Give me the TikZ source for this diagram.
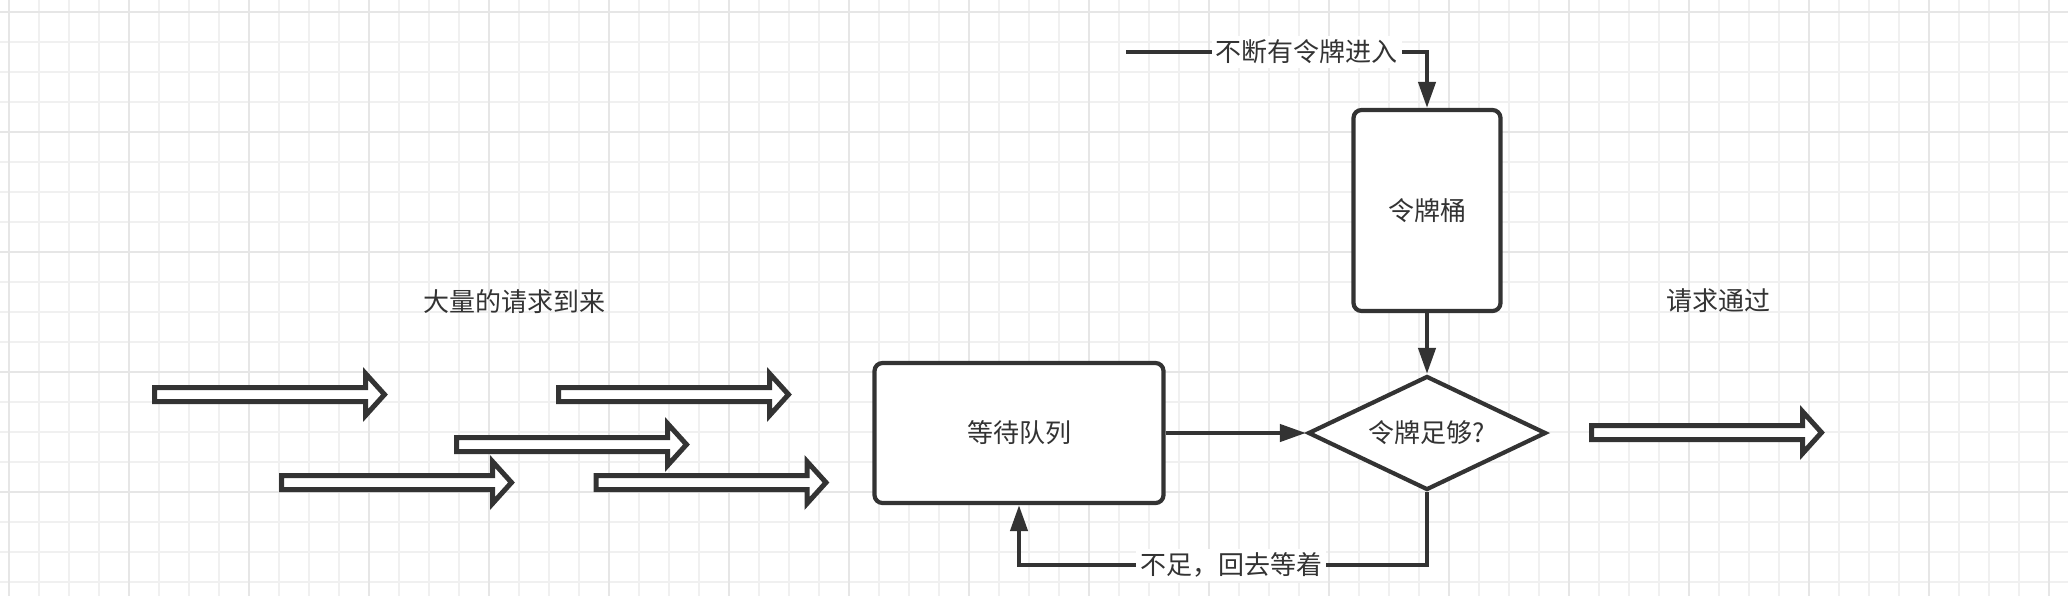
\documentclass[tikz,border=0pt]{standalone}
\usepackage{fontspec}
\newfontfamily\cjk{Noto Sans CJK SC}
\usetikzlibrary{arrows.meta,shapes.geometric}
\definecolor{ink}{HTML}{333333}
\definecolor{gridminor}{HTML}{F0F0F0}
\definecolor{gridmajor}{HTML}{E6E6E6}
\tikzset{
  txt/.style={font=\cjk\fontsize{13}{15}\selectfont, text=ink},
  box/.style={draw=ink, line width=2.1pt, rounded corners=4pt, fill=white, inner sep=0pt, txt},
  dia/.style={diamond, draw=ink, line width=2.1pt, fill=white, inner sep=0pt, aspect=2, txt},
  conn/.style={draw=ink, line width=2.1pt, -{Triangle[length=13pt,width=8.5pt]}},
  lbl/.style={txt, fill=white, inner sep=2pt},
  blk/.style={draw=ink, line width=2.5pt, fill=white, line join=miter},
  blockarrow/.pic={\path[blk] (0,-7) -- (211,-7) -- (211,-21) -- (230,0) -- (211,21) -- (211,7) -- (0,7) -- cycle;}
}
\begin{document}
\begin{tikzpicture}[x=0.5pt,y=-0.5pt]
\useasboundingbox (0,0) rectangle (2068,596);
\fill[white] (0,0) rectangle (2068,596);
% grid
\foreach \i in {0,...,68} {\pgfmathsetmacro\xx{9+30*\i}\draw[gridminor, line width=1pt] (\xx,0) -- (\xx,596);}
\foreach \i in {0,...,19} {\pgfmathsetmacro\yy{11.7+30*\i}\draw[gridminor, line width=1pt] (0,\yy) -- (2068,\yy);}
\foreach \i in {0,...,17} {\pgfmathsetmacro\xx{9+120*\i}\draw[gridmajor, line width=1.2pt] (\xx,0) -- (\xx,596);}
\foreach \i in {0,...,4} {\pgfmathsetmacro\yy{11.7+120*\i}\draw[gridmajor, line width=1.2pt] (0,\yy) -- (2068,\yy);}

% labels
\node[txt] (lin) at (514,302) {大量的请求到来};
\node[txt] (lout) at (1718,301) {请求通过};

% block arrows
\pic at (154.5,394.5) {blockarrow};
\pic at (558.5,394.5) {blockarrow};
\pic at (456.5,444.5) {blockarrow};
\pic at (281.5,482.5) {blockarrow};
\pic at (596,482.5) {blockarrow};
\pic at (1591.5,432.5) {blockarrow};

% nodes
\node[box, minimum width=73.5pt, minimum height=100.5pt] (bucket) at (1427,210.5) {令牌桶};
\node[box, minimum width=144.5pt, minimum height=70pt] (queue) at (1019,433) {等待队列};
\node[dia, minimum width=119pt, minimum height=57pt] (check) at (1427,433) {令牌足够?};

% connectors
\coordinate (tin) at (1126,52);
\draw[conn] (tin) -| (bucket.north) node[lbl, pos=0.3] {不断有令牌进入};
\draw[conn] (bucket.south) -- (check.north);
\draw[conn] (queue.east) -- (check.west);
\draw[conn] (check.south) -- ++(0,73) -| (queue.south) node[lbl, pos=0.24] {不足，回去等着};
\end{tikzpicture}
\end{document}
